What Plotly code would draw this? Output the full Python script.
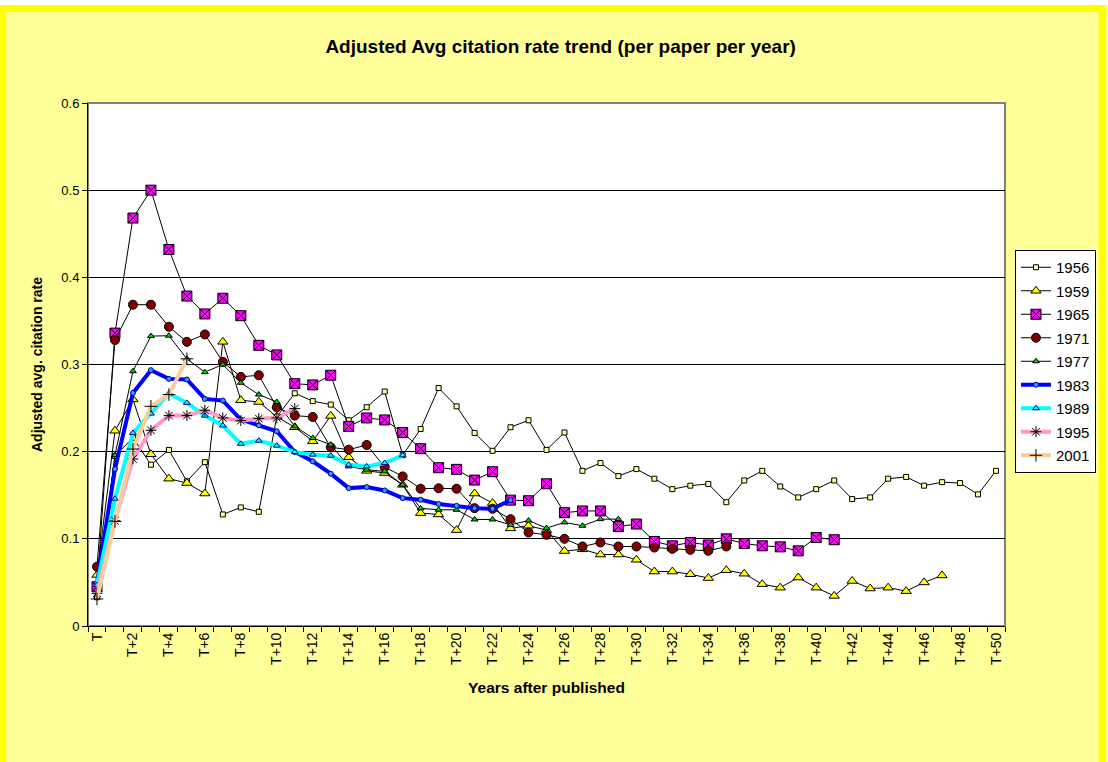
import plotly.graph_objects as go

# ---------------- data ----------------
categories = ["T"] + [f"T+{i}" for i in range(1, 51)]

years = ["1956", "1959", "1965", "1971", "1977", "1983", "1989", "1995", "2001"]

y1956 = [0.033, 0.195, 0.216, 0.185, 0.202, 0.166, 0.188, 0.128, 0.136, 0.131,
         0.240, 0.267, 0.258, 0.254, 0.236, 0.251, 0.269, 0.196, 0.226, 0.273,
         0.252, 0.2215, 0.201, 0.228, 0.236, 0.202, 0.222, 0.178, 0.187, 0.172,
         0.180, 0.169, 0.157, 0.161, 0.163, 0.142, 0.167, 0.178, 0.160, 0.1475,
         0.157, 0.167, 0.1456, 0.1475, 0.169, 0.171, 0.161, 0.165, 0.164, 0.151,
         0.178]
y1959 = [0.0586, 0.224, 0.260, 0.197, 0.169, 0.164, 0.152, 0.326, 0.259, 0.257,
         0.240, 0.228, 0.212, 0.241, 0.1935, 0.178, 0.1755, 0.162, 0.1295, 0.128,
         0.110, 0.152, 0.141, 0.112, 0.115, 0.110, 0.086, 0.088, 0.082, 0.082,
         0.076, 0.0625, 0.0625, 0.0594, 0.055, 0.064, 0.060, 0.048, 0.044, 0.0556,
         0.044, 0.0345, 0.0517, 0.043, 0.044, 0.040, 0.050, 0.058]
y1965 = [0.045, 0.336, 0.468, 0.500, 0.432, 0.3785, 0.358, 0.376, 0.356, 0.322,
         0.311, 0.278, 0.2766, 0.2877, 0.229, 0.2387, 0.2364, 0.222, 0.2034, 0.1816,
         0.1797, 0.1674, 0.177, 0.1444, 0.1437, 0.1632, 0.130, 0.132, 0.132, 0.114,
         0.117, 0.097, 0.092, 0.0958, 0.093, 0.100, 0.0946, 0.092, 0.0908, 0.0862,
         0.1015, 0.099]
y1971 = [0.068, 0.328, 0.3686, 0.3686, 0.3433, 0.326, 0.3345, 0.303, 0.2858, 0.2877,
         0.251, 0.2414, 0.2398, 0.205, 0.2023, 0.2077, 0.1824, 0.1716, 0.1575, 0.158,
         0.1575, 0.1352, 0.1345, 0.1226, 0.1073, 0.1046, 0.100, 0.0912, 0.0958, 0.0912,
         0.0912, 0.090, 0.0885, 0.0874, 0.0862, 0.0912]
y1977 = [0.035, 0.196, 0.2923, 0.3326, 0.333, 0.3065, 0.2912, 0.300, 0.279, 0.2655,
         0.257, 0.229, 0.2157, 0.208, 0.1831, 0.1793, 0.1774, 0.162, 0.135, 0.1333,
         0.1333, 0.1222, 0.1222, 0.116, 0.121, 0.1123, 0.1188, 0.115, 0.1226, 0.1226]
y1983 = [0.049, 0.180, 0.2674, 0.2935, 0.2835, 0.2828, 0.2605, 0.2586, 0.2368, 0.2303,
         0.2234, 0.1996, 0.1889, 0.1747, 0.1582, 0.1594, 0.1555, 0.1467, 0.1448, 0.140,
         0.1379, 0.1352, 0.1345, 0.1444]
y1989 = [0.047, 0.146, 0.2215, 0.2437, 0.2667, 0.256, 0.2414, 0.230, 0.209, 0.2126,
         0.2069, 0.1996, 0.1966, 0.1954, 0.185, 0.1831, 0.187, 0.1958]
y1995 = [0.0375, 0.1207, 0.1916, 0.2245, 0.2414, 0.2414, 0.2475, 0.2387, 0.2356, 0.238,
         0.2387, 0.2494]
y2001 = [0.031, 0.12, 0.203, 0.252, 0.2655, 0.3065]

series_values = [y1956, y1959, y1965, y1971, y1977, y1983, y1989, y1995, y2001]

y_ticks = [0, 0.1, 0.2, 0.3, 0.4, 0.5, 0.6]
x_tick_labels = categories[::2]

# ---------------- styles ----------------
styles = {
    "1956": dict(line=dict(color="#000000", width=1),
                 marker=dict(symbol="square", size=5, color="#FFFF99",
                             line=dict(color="#000000", width=1))),
    "1959": dict(line=dict(color="#000000", width=1),
                 marker=dict(symbol="triangle-up", size=9, color="#FFFF00",
                             line=dict(color="#000000", width=1))),
    "1965": dict(line=dict(color="#000000", width=1),
                 marker=dict(symbol="square-x", size=10, color="#FF00FF",
                             line=dict(color="#000000", width=1))),
    "1971": dict(line=dict(color="#000000", width=1),
                 marker=dict(symbol="circle", size=9, color="#800000",
                             line=dict(color="#000000", width=1))),
    "1977": dict(line=dict(color="#000000", width=1),
                 marker=dict(symbol="triangle-up", size=6, color="#00CC00",
                             line=dict(color="#000000", width=1))),
    "1983": dict(line=dict(color="#0000FF", width=4),
                 marker=dict(symbol="circle", size=5, color="#3399FF",
                             line=dict(color="#000080", width=1))),
    "1989": dict(line=dict(color="#00FFFF", width=4),
                 marker=dict(symbol="triangle-up", size=6, color="#00FFFF",
                             line=dict(color="#000080", width=1))),
    "1995": dict(line=dict(color="#FF99CC", width=4),
                 marker=dict(symbol="asterisk-open", size=9, color="#000000",
                             line=dict(color="#000000", width=1))),
    "2001": dict(line=dict(color="#FFCC99", width=4),
                 marker=dict(symbol="cross-thin-open", size=9, color="#000000",
                             line=dict(color="#000000", width=1))),
}

fig = go.Figure()
for name, vals in zip(years, series_values):
    xs = list(range(len(vals)))
    st = styles[name]
    fig.add_trace(go.Scatter(
        x=xs, y=vals, name=name, mode="lines+markers",
        line=st["line"], marker=st["marker"], legendgroup=name,
        customdata=categories[:len(vals)],
        hovertemplate="%{customdata}: %{y}<extra>" + name + "</extra>",
    ))

FONT = "Liberation Sans, Arial, sans-serif"

# geometry (pixels)
W, H = 1108, 762
L, R, T, B = 88, 100, 103, 136
pw = W - L - R
ph = H - T - B

def px_x(p):
    return (p - L) / pw

def px_y(p):
    return (H - B - p) / ph

shapes = [
    # white strip above the frame
    dict(type="rect", xref="paper", yref="paper", layer="below",
         x0=px_x(-10), x1=px_x(W + 10), y0=px_y(5), y1=px_y(-10),
         fillcolor="#FFFFFF", line=dict(width=0)),
    # yellow outer frame
    dict(type="rect", xref="paper", yref="paper", layer="below",
         x0=px_x(2.5), x1=px_x(W - 2.5), y0=px_y(H + 20), y1=px_y(8.5),
         fillcolor="rgba(0,0,0,0)", line=dict(color="#FFFF00", width=7)),
    # plot area border (gray)
    dict(type="rect", xref="paper", yref="paper", layer="below",
         x0=0, x1=1, y0=0, y1=1,
         fillcolor="rgba(0,0,0,0)", line=dict(color="#808080", width=2)),
]

fig.update_layout(
    width=W, height=H,
    margin=dict(l=L, r=R, t=T, b=B, pad=0),
    paper_bgcolor="#FFFF99",
    plot_bgcolor="#FFFFFF",
    font=dict(family=FONT, size=13, color="#000000"),
    title=dict(text="<b>Adjusted Avg citation rate trend (per paper per year)</b>",
               x=0.506, xanchor="center", y=1 - 46 / H, yanchor="middle",
               font=dict(family=FONT, size=19, color="#000000")),
    showlegend=True,
    legend=dict(x=px_x(1018), y=px_y(250), xanchor="left", yanchor="top",
                bgcolor="#FFFFFF", bordercolor="#000000", borderwidth=1,
                font=dict(family=FONT, size=15, color="#000000"),
                traceorder="grouped", tracegroupgap=1, itemwidth=30),
    shapes=shapes,
    hovermode="closest",
)

fig.update_xaxes(
    range=[-0.5, len(categories) - 0.5],
    tickmode="array",
    tickvals=list(range(0, len(categories), 2)),
    ticktext=x_tick_labels,
    tickangle=-90,
    ticks="", ticklen=0,
    minor=dict(tickmode="array",
               tickvals=[i - 0.5 for i in range(len(categories) + 1)],
               ticks="outside", ticklen=5, tickcolor="#000000", showgrid=False),
    showline=True, linecolor="#000000", linewidth=1,
    showgrid=False, zeroline=False,
    tickfont=dict(family=FONT, size=14),
    title=dict(text="<b>Years after published</b>", standoff=18,
               font=dict(family=FONT, size=15.5)),
)

fig.update_yaxes(
    range=[0, 0.6],
    tickmode="array", tickvals=y_ticks, ticktext=[f"{v:g}" for v in y_ticks],
    ticks="outside", ticklen=5, tickcolor="#000000",
    showline=True, linecolor="#000000", linewidth=1,
    showgrid=True, gridcolor="#000000", gridwidth=1,
    zeroline=False,
    tickfont=dict(family=FONT, size=13),
    title=dict(text="<b>Adjusted avg. citation rate</b>", standoff=15,
               font=dict(family=FONT, size=14)),
)

fig.write_html(
    "out.html",
    config={"displayModeBar": False},
    post_script="document.body.style.margin='0';document.body.style.padding='0';"
                "document.body.style.overflow='hidden';",
)
